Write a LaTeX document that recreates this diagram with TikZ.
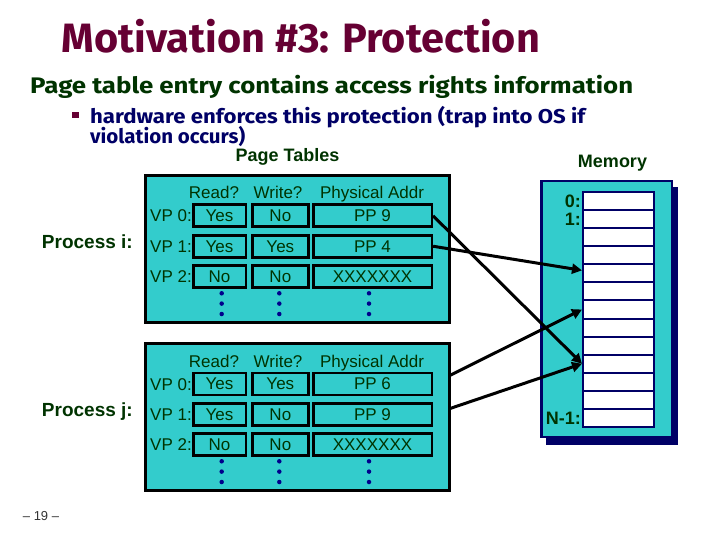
\documentclass[tikz,border=0pt]{standalone}
\usepackage{fontspec}
\usepackage{graphicx}
\setmainfont{Liberation Sans}
\newfontfamily\comicfont{Fira Sans}
\usetikzlibrary{arrows.meta}
\definecolor{tealfill}{RGB}{51,204,204}
\definecolor{dkgreen}{RGB}{0,51,0}
\definecolor{maroon}{RGB}{102,0,51}
\definecolor{navyblue}{RGB}{0,0,102}
\definecolor{dotblue}{RGB}{0,0,140}
\pgfdeclarelayer{back}
\pgfsetlayers{back,main}
\tikzset{
  tbox/.style={draw=black, line width=3pt, fill=tealfill, inner sep=0pt, minimum width=304pt, minimum height=147pt},
  cell/.style={draw=black, line width=2.6pt, fill=tealfill, minimum height=22pt, inner sep=0pt,
    text height=12pt, text depth=0pt, font=\fontsize{17}{20}\selectfont, text=dkgreen},
  hdr/.style={anchor=base, inner sep=0pt, font=\fontsize{17}{20}\selectfont, text=dkgreen},
  vplab/.style={anchor=base east, inner sep=0pt, font=\fontsize{17}{20}\selectfont, text=dkgreen},
  plab/.style={anchor=base east, inner sep=0pt, font=\bfseries\fontsize{19}{22}\selectfont, text=dkgreen},
  boldlab/.style={anchor=base, inner sep=0pt, font=\bfseries\fontsize{18}{21}\selectfont, text=dkgreen},
  mlab/.style={anchor=base east, inner sep=0pt, font=\bfseries\fontsize{18}{21}\selectfont, text=dkgreen},
  mcell/.style={draw=navyblue, line width=2pt, fill=white, minimum width=71pt, minimum height=18.08pt, inner sep=0pt},
  arr/.style={line width=3pt, -{Triangle[length=10pt,width=10pt]}},
  dotmark/.style={circle, fill=dotblue, inner sep=0pt, minimum size=4.5pt},
}
\begin{document}
\begin{tikzpicture}[x=1pt,y=-1pt]
\useasboundingbox (0,0) rectangle (720,540);

% Title and text
\node[anchor=base west, inner sep=0pt, text=maroon] (title) at (61.7,52.3)
  {\resizebox{478pt}{\height}{\comicfont\bfseries\fontsize{41}{48}\selectfont Motivation \#3: Protection}};
\node[anchor=base west, inner sep=0pt, text=dkgreen] (sub) at (30,94)
  {\resizebox{603pt}{\height}{\comicfont\bfseries\fontsize{22.5}{28}\selectfont Page table entry contains access rights information}};
\fill[maroon] (72,112) rectangle (79,118.5);
\node[anchor=base west, inner sep=0pt, text=navyblue] (bul1) at (90,124)
  {\resizebox{495pt}{\height}{\comicfont\bfseries\fontsize{20}{24}\selectfont hardware enforces this protection (trap into OS if}};
\node[anchor=base west, inner sep=0pt, text=navyblue] (bul2) at (90,144)
  {\resizebox{155pt}{\height}{\comicfont\bfseries\fontsize{20}{24}\selectfont violation occurs)}};

\node[boldlab] (pt) at (287.5,162) {Page Tables};
\node[boldlab] (memlab) at (612.5,168) {Memory};

% Memory
\begin{pgfonlayer}{back}
\fill[navyblue] (546,187) rectangle (678,445);
\draw[navyblue, line width=2.5pt, fill=tealfill] (541.25,181.25) rectangle (671.75,436.75);
\end{pgfonlayer}
\foreach \r in {0,...,12} {
  \node[mcell] (m\r) at (618.5,{192+18.08*(\r+0.5)}) {};
}
\node[mlab] (l0) at ([xshift=-1pt,yshift=-6.5pt]m0.west) {0:};
\node[mlab] (l1) at ([xshift=-1pt,yshift=-6.5pt]m1.west) {1:};
\node[mlab] (l12) at ([xshift=-1pt,yshift=-6.5pt]m12.west) {N-1:};

% Process i table
\node[tbox] (ibox) at (297.5,249) {};
\node[plab] (proci) at (133,248.5) {Process i:};
\node[hdr] (ih1) at (214,199) {Read?};
\node[hdr] (ih2) at (278,199) {Write?};
\node[hdr] (ih3) at (372,199) {Physical Addr};
\foreach \r/\a/\b/\c in {0/Yes/No/PP 9, 1/Yes/Yes/PP 4, 2/No/No/XXXXXXX} {
  \node[cell, minimum width=52.6pt] (iR\r) at (219.5,{215.8+30.45*\r}) {\a};
  \node[cell, minimum width=56.3pt] (iW\r) at (280.35,{215.8+30.45*\r}) {\b};
  \node[cell, minimum width=118.6pt] (iP\r) at (372.5,{215.8+30.45*\r}) {\c};
  \node[vplab] (iV\r) at (192,{222+30.45*\r}) {VP \r:};
}
\foreach \x in {221.7,279.3,369} {
  \foreach \y in {293.3,303.6,314} {
    \node[dotmark] at (\x,\y) {};
  }
}

% Process j table
\node[tbox] (jbox) at (297.5,417) {};
\node[plab] (procj) at (133,416.5) {Process j:};
\node[hdr] (jh1) at (214,367) {Read?};
\node[hdr] (jh2) at (278,367) {Write?};
\node[hdr] (jh3) at (372,367) {Physical Addr};
\foreach \r/\a/\b/\c in {0/Yes/Yes/PP 6, 1/Yes/No/PP 9, 2/No/No/XXXXXXX} {
  \node[cell, minimum width=52.6pt] (jR\r) at (219.5,{383.8+30.45*\r}) {\a};
  \node[cell, minimum width=56.3pt] (jW\r) at (280.35,{383.8+30.45*\r}) {\b};
  \node[cell, minimum width=118.6pt] (jP\r) at (372.5,{383.8+30.45*\r}) {\c};
  \node[vplab] (jV\r) at (192,{390+30.45*\r}) {VP \r:};
}
\foreach \x in {221.7,279.3,369} {
  \foreach \y in {461.3,471.6,482} {
    \node[dotmark] at (\x,\y) {};
  }
}

% Arrows
\draw[arr] (iP0.east) -- (m9.west);
\draw[arr] (iP1.east) -- ([yshift=3pt]m4.west);
\begin{pgfonlayer}{back}
\draw[arr] (jP0.east) -- (m6.west);
\draw[arr] (jP1.east) -- (m9.west);
\end{pgfonlayer}

\node[inner sep=0pt, font=\fontsize{13}{15}\selectfont, text=black!80] (pg) at (41,516) {– 19 –};
\end{tikzpicture}
\end{document}
